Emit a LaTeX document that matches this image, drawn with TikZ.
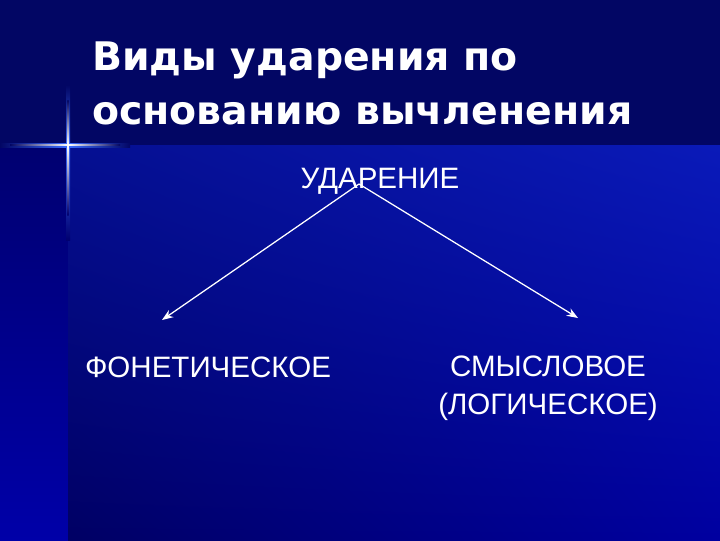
\documentclass[tikz,border=0pt]{standalone}
\usepackage{fontspec}
\setmainfont{Liberation Sans}
\newfontfamily\titlefont{DejaVu Sans}
\usetikzlibrary{arrows.meta,shadings}
\definecolor{bandcol}{RGB}{2,6,100}
\definecolor{stripup}{RGB}{0,0,112}
\definecolor{stripdown}{RGB}{0,0,168}
\definecolor{glowcol}{RGB}{60,110,255}
\definecolor{mainUL}{RGB}{5,15,145}
\definecolor{mainUR}{RGB}{10,26,185}
\definecolor{mainLL}{RGB}{0,0,100}
\definecolor{mainLR}{RGB}{0,0,160}
\tikzset{
  heading/.style={text=white,font=\titlefont\bfseries\fontsize{28}{38}\selectfont,
    anchor=base west,inner sep=0pt},
  kind/.style={text=white,font=\fontsize{21}{26.5}\selectfont,inner sep=0pt,
    align=center},
  branch/.style={white,line width=0.9pt,-{Stealth[length=8pt,width=6pt]}}
}
\begin{document}
\begin{tikzpicture}[x=0.025cm,y=-0.025cm]
  \useasboundingbox (0,0) rectangle (720,540);
  \fill[bandcol] (0,0) rectangle (720,145);
  \shade[top color=stripup,bottom color=stripdown] (0,145) rectangle (68,540);
  \shade[upper left=mainUL,upper right=mainUR,lower left=mainLL,
    lower right=mainLR] (68,145) rectangle (720,540);
  \begin{scope}
    \shade[top color=bandcol,bottom color=glowcol] (66,85) rectangle (70,145);
    \shade[top color=glowcol,bottom color=stripup] (66,145) rectangle (70,240);
    \shade[left color=bandcol,right color=glowcol] (0,143) rectangle (68,147);
    \shade[left color=glowcol,right color=bandcol] (68,143) rectangle (130,147);
    \shade[top color=bandcol,bottom color=white] (67.4,100) rectangle (68.6,145);
    \shade[top color=white,bottom color=stripup] (67.4,145) rectangle (68.6,215);
    \shade[left color=bandcol,right color=white] (10,144.4) rectangle (68,145.6);
    \shade[left color=white,right color=bandcol] (68,144.4) rectangle (120,145.6);
  \end{scope}
  \node[heading] (title1) at (92,70) {Виды ударения по};
  \node[heading] (title2) at (92,124) {основанию вычленения};
  \node[kind,anchor=base] (stress) at (380,188) {УДАРЕНИЕ};
  \node[kind,anchor=base] (phon) at (208,377) {ФОНЕТИЧЕСКОЕ};
  \node[kind,anchor=base] (sense) at (548,414) {СМЫСЛОВОЕ\\(ЛОГИЧЕСКОЕ)};
  \coordinate (apex) at (359,184);
  \coordinate (tipL) at (162,320);
  \coordinate (tipR) at (578,318);
  \draw[branch] (apex) -- (tipL);
  \draw[branch] (apex) -- (tipR);
\end{tikzpicture}
\end{document}
